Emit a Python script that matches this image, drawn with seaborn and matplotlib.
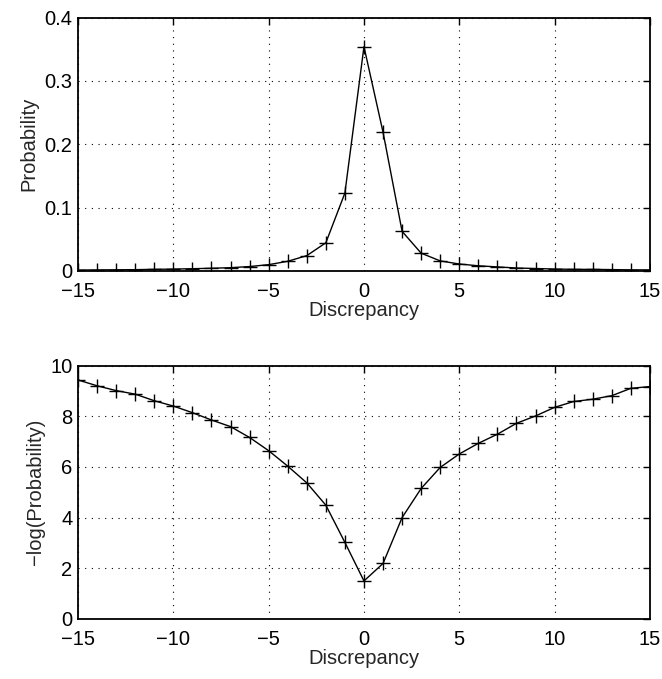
import numpy as np
import pandas as pd
import matplotlib
matplotlib.use("Agg")
import matplotlib.pyplot as plt
import seaborn as sns
from matplotlib.ticker import FuncFormatter

# discrepancy values (x) shared by both panels
discrepancy = list(range(-15, 16))

# probability
probability = [0.0015, 0.0017, 0.0019, 0.0021, 0.0026, 0.0030, 0.0036, 0.0043,
               0.0052, 0.0070, 0.0100, 0.0153, 0.0242, 0.0445, 0.1230, 0.3540,
               0.2190, 0.0625, 0.0281, 0.0159, 0.0110, 0.0082, 0.0064, 0.0047,
               0.0039, 0.0031, 0.0026, 0.0025, 0.0022, 0.0018, 0.0017]

# -log(probability)
neg_log_prob = [9.43, 9.20, 9.01, 8.87, 8.61, 8.40, 8.14, 7.85, 7.59, 7.16,
                6.64, 6.03, 5.37, 4.49, 3.02, 1.50, 2.19, 4.00, 5.15, 5.98,
                6.51, 6.93, 7.29, 7.72, 8.01, 8.35, 8.58, 8.67, 8.81, 9.10, 9.17]

df = pd.DataFrame({'Discrepancy': discrepancy,
                   'Probability': probability,
                   'neglog': neg_log_prob})

sns.set_style("white")
plt.rcParams['font.family'] = ['Liberation Sans', 'DejaVu Sans']
plt.rcParams['font.size'] = 14.5

fig = plt.figure(figsize=(6.62, 6.79), dpi=100)
ax1 = fig.add_axes([0.1178, 0.6009, 0.864, 0.3733])
ax2 = fig.add_axes([0.1178, 0.0884, 0.864, 0.3733])

def style_axis(ax, yticks, ylabel):
	ax.set_xlim(-15, 15)
	ax.set_xticks(range(-15, 16, 5))
	ax.set_ylim(yticks[0], yticks[-1])
	ax.set_yticks(yticks)
	ax.yaxis.set_major_formatter(FuncFormatter(lambda v, p: f"{v:g}"))
	ax.grid(True, color='black', linestyle=(0, (1, 5)), linewidth=0.8)
	ax.tick_params(direction='in', length=5, width=1, top=True, right=True,
	               labelsize=14.5, colors='black')
	ax.tick_params(axis='x', pad=8)
	ax.tick_params(axis='y', pad=4)
	for s in ax.spines.values():
		s.set_linewidth(1.3)
		s.set_color('black')
	ax.set_xlabel('Discrepancy', fontsize=14.5, labelpad=0)
	ax.set_ylabel(ylabel, fontsize=14.5, labelpad=4)

sns.lineplot(data=df, x='Discrepancy', y='Probability', ax=ax1, color='black',
             linewidth=1, marker='+', markersize=10, markeredgewidth=1,
             markeredgecolor='black')
style_axis(ax1, [0, 0.1, 0.2, 0.3, 0.4], 'Probability')

sns.lineplot(data=df, x='Discrepancy', y='neglog', ax=ax2, color='black',
             linewidth=1, marker='+', markersize=10, markeredgewidth=1,
             markeredgecolor='black')
style_axis(ax2, [0, 2, 4, 6, 8, 10], '\u2212log(Probability)')

fig.savefig('out.png', dpi=100)
